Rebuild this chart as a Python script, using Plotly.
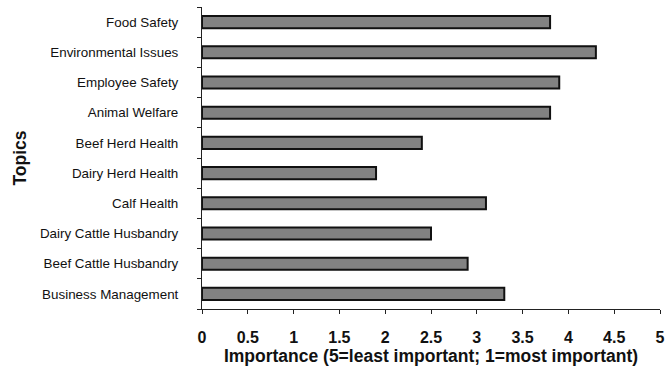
import plotly.graph_objects as go

topics = ["Food Safety", "Environmental Issues", "Employee Safety", "Animal Welfare",
          "Beef Herd Health", "Dairy Herd Health", "Calf Health",
          "Dairy Cattle Husbandry", "Beef Cattle Husbandry", "Business Management"]
importance = [3.8, 4.3, 3.9, 3.8, 2.4, 1.9, 3.1, 2.5, 2.9, 3.3]
x_ticks = [0, 0.5, 1, 1.5, 2, 2.5, 3, 3.5, 4, 4.5, 5]
x_tick_text = ["0", "0.5", "1", "1.5", "2", "2.5", "3", "3.5", "4", "4.5", "5"]

fig = go.Figure(go.Bar(
    x=importance, y=topics, orientation="h",
    marker=dict(color="#828282", line=dict(color="#111111", width=2)),
    width=0.4,
))

fig.update_layout(
    width=670, height=366,
    margin=dict(l=202, r=5, t=7, b=57),
    paper_bgcolor="white", plot_bgcolor="white",
    showlegend=False,
    font=dict(family="Liberation Sans, Arial, sans-serif", color="#111"),
)
fig.update_xaxes(
    range=[0, 5], tickvals=x_ticks, ticktext=x_tick_text,
    showgrid=False, zeroline=False,
    showline=True, linecolor="#222", linewidth=1,
    ticks="outside", ticklen=4, tickcolor="#222",
    tickfont=dict(size=16, family="Liberation Sans, Arial, sans-serif", weight="bold"),
    ticklabelstandoff=10,
    title=dict(text="<b>Importance (5=least important; 1=most important)</b>",
               font=dict(size=17.5), standoff=3),
)
fig.update_yaxes(
    categoryorder="array", categoryarray=topics[::-1],
    showgrid=False, zeroline=False,
    showline=True, linecolor="#222", linewidth=1,
    ticks="outside", ticklen=4, tickcolor="#222", tickson="boundaries",
    tickfont=dict(size=13.4),
    ticklabelstandoff=20,
    title=dict(text="<b>Topics</b>", font=dict(size=17.5), standoff=8),
)

fig.write_html("out.html")
